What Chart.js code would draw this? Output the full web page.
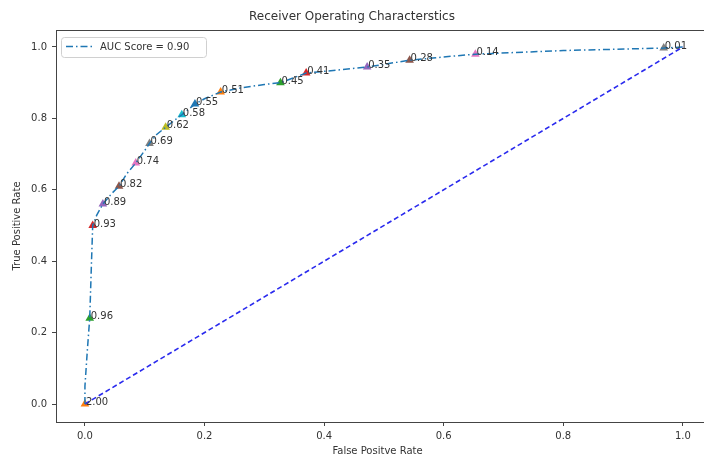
<!DOCTYPE html>
<html>
<head>
<meta charset="utf-8">
<title>ROC</title>
<script src="https://cdn.jsdelivr.net/npm/chart.js@4.4.0/dist/chart.umd.min.js"></script>
<style>
  html, body { margin: 0; padding: 0; background: #fff; }
</style>
</head>
<body>
<canvas id="roc" width="704" height="462"></canvas>
<script>
// roc curve
const fpr = [0, 0, 0.004, 0.008, 0.011, 0.013, 0.02, 0.03, 0.045, 0.057, 0.07, 0.085, 0.1, 0.108, 0.12, 0.135, 0.15, 0.162, 0.184, 0.2, 0.227, 0.26, 0.3, 0.327, 0.37, 0.42, 0.472, 0.543, 0.6, 0.653, 0.8, 0.968, 1.0];
const tpr = [0, 0.05, 0.15, 0.24, 0.4, 0.5, 0.53, 0.56, 0.59, 0.61, 0.645, 0.675, 0.71, 0.73, 0.755, 0.775, 0.795, 0.81, 0.84, 0.855, 0.874, 0.885, 0.895, 0.9, 0.927, 0.935, 0.944, 0.963, 0.972, 0.98, 0.99, 0.997, 1.0];

// threshold markers
const markFpr = [0, 0.008, 0.013, 0.03, 0.057, 0.085, 0.108, 0.135, 0.162, 0.184, 0.227, 0.327, 0.37, 0.472, 0.543, 0.653, 0.968];
const markTpr = [0, 0.24, 0.5, 0.56, 0.61, 0.675, 0.73, 0.775, 0.81, 0.84, 0.874, 0.9, 0.927, 0.944, 0.963, 0.98, 0.997];
const thresholds = ['2.00', '0.96', '0.93', '0.89', '0.82', '0.74', '0.69', '0.62', '0.58', '0.55', '0.51', '0.45', '0.41', '0.35', '0.28', '0.14', '0.01'];

const axisTicks = [0, 0.2, 0.4, 0.6, 0.8, 1.0];
const aucLabel = 'AUC Score = 0.90';

// matplotlib tab10, marker cycle starts at orange
const tab10 = ['#1f77b4', '#ff7f0e', '#2ca02c', '#d62728', '#9467bd', '#8c564b', '#e377c2', '#7f7f7f', '#bcbd22', '#17becf'];
const markColors = thresholds.map((t, i) => tab10[(i + 1) % 10]);

const FONT = 'DejaVu Sans';
const ROC_DASH = [7, 3, 1.5, 3];

const extras = {
  id: 'extras',
  afterDatasetsDraw(chart) {
    const ctx = chart.ctx;
    const a = chart.chartArea;
    const xs = chart.scales.x, ys = chart.scales.y;
    ctx.save();

    // threshold labels
    ctx.font = '10px "' + FONT + '"';
    ctx.fillStyle = '#333';
    ctx.textAlign = 'left';
    ctx.textBaseline = 'alphabetic';
    thresholds.forEach((t, i) => {
      ctx.fillText(t, xs.getPixelForValue(markFpr[i]) + 1, ys.getPixelForValue(markTpr[i]) + 1);
    });

    // top edge of the frame (right edge is cropped off in the original)
    ctx.strokeStyle = '#444';
    ctx.lineWidth = 1;
    ctx.beginPath();
    ctx.moveTo(a.left, a.top + 0.5);
    ctx.lineTo(chart.width, a.top + 0.5);
    ctx.moveTo(a.right, a.bottom + 0.5);
    ctx.lineTo(chart.width, a.bottom + 0.5);
    ctx.stroke();

    // legend
    const lx = 61, ly = 37, lw = 145, lh = 20;
    ctx.fillStyle = 'rgba(255,255,255,0.85)';
    ctx.strokeStyle = '#d0d0d0';
    ctx.beginPath();
    ctx.roundRect(lx + 0.5, ly + 0.5, lw, lh, 3);
    ctx.fill();
    ctx.stroke();
    ctx.strokeStyle = '#1f77b4';
    ctx.lineWidth = 1.5;
    ctx.setLineDash(ROC_DASH);
    ctx.beginPath();
    ctx.moveTo(66, 46.5);
    ctx.lineTo(92, 46.5);
    ctx.stroke();
    ctx.setLineDash([]);
    ctx.fillStyle = '#333';
    ctx.textBaseline = 'middle';
    ctx.fillText(chart.data.datasets[0].label, 100, 47);
    ctx.restore();
  }
};

new Chart(document.getElementById('roc'), {
  type: 'scatter',
  data: {
    datasets: [
      {
        label: aucLabel,
        data: fpr.map((x, i) => ({ x: x, y: tpr[i] })),
        showLine: true,
        borderColor: '#1f77b4',
        borderWidth: 1.5,
        borderDash: ROC_DASH,
        pointRadius: 0,
        tension: 0
      },
      {
        label: 'diag',
        data: [{ x: 0, y: 0 }, { x: 1, y: 1 }],
        showLine: true,
        borderColor: '#2a2aee',
        borderWidth: 1.6,
        borderDash: [5, 3],
        pointRadius: 0
      },
      {
        label: 'thresholds',
        data: markFpr.map((x, i) => ({ x: x, y: markTpr[i] })),
        pointStyle: 'triangle',
        pointRadius: 5,
        backgroundColor: markColors,
        borderColor: markColors,
        borderWidth: 0
      }
    ]
  },
  options: {
    responsive: false,
    animation: false,
    layout: { padding: 0 },
    plugins: {
      legend: { display: false },
      tooltip: { enabled: false },
      title: {
        display: true,
        text: 'Receiver Operating Characterstics',
        color: '#333',
        font: { family: FONT, size: 12, weight: 'normal' },
        padding: { top: 10, bottom: 5.6 }
      }
    },
    scales: {
      x: {
        type: 'linear',
        min: -0.0484,
        max: 1.027,
        afterBuildTicks: s => { s.ticks = axisTicks.map(v => ({ value: v })); },
        afterFit: s => { s.height = 40; },
        grid: { drawOnChartArea: false, drawTicks: true, tickLength: 4, color: '#444' },
        border: { display: true, color: '#444' },
        ticks: {
          color: '#333',
          padding: 4,
          maxRotation: 0,
          font: { family: FONT, size: 10 },
          callback: v => v.toFixed(1)
        },
        title: {
          display: true,
          text: 'False Positve Rate',
          color: '#333',
          font: { family: FONT, size: 10 },
          padding: { top: 0, bottom: 5 }
        }
      },
      y: {
        type: 'linear',
        min: -0.0504,
        max: 1.0476,
        afterBuildTicks: s => { s.ticks = axisTicks.map(v => ({ value: v })); },
        afterFit: s => { s.width = 56; },
        grid: { drawOnChartArea: false, drawTicks: true, tickLength: 4, color: '#444' },
        border: { display: true, color: '#444' },
        ticks: {
          color: '#333',
          padding: 5,
          font: { family: FONT, size: 10 },
          callback: v => v.toFixed(1)
        },
        title: {
          display: true,
          text: 'True Positive Rate',
          color: '#333',
          font: { family: FONT, size: 10 },
          padding: { top: 11, bottom: 0 }
        }
      }
    }
  },
  plugins: [extras]
});
</script>
</body>
</html>
